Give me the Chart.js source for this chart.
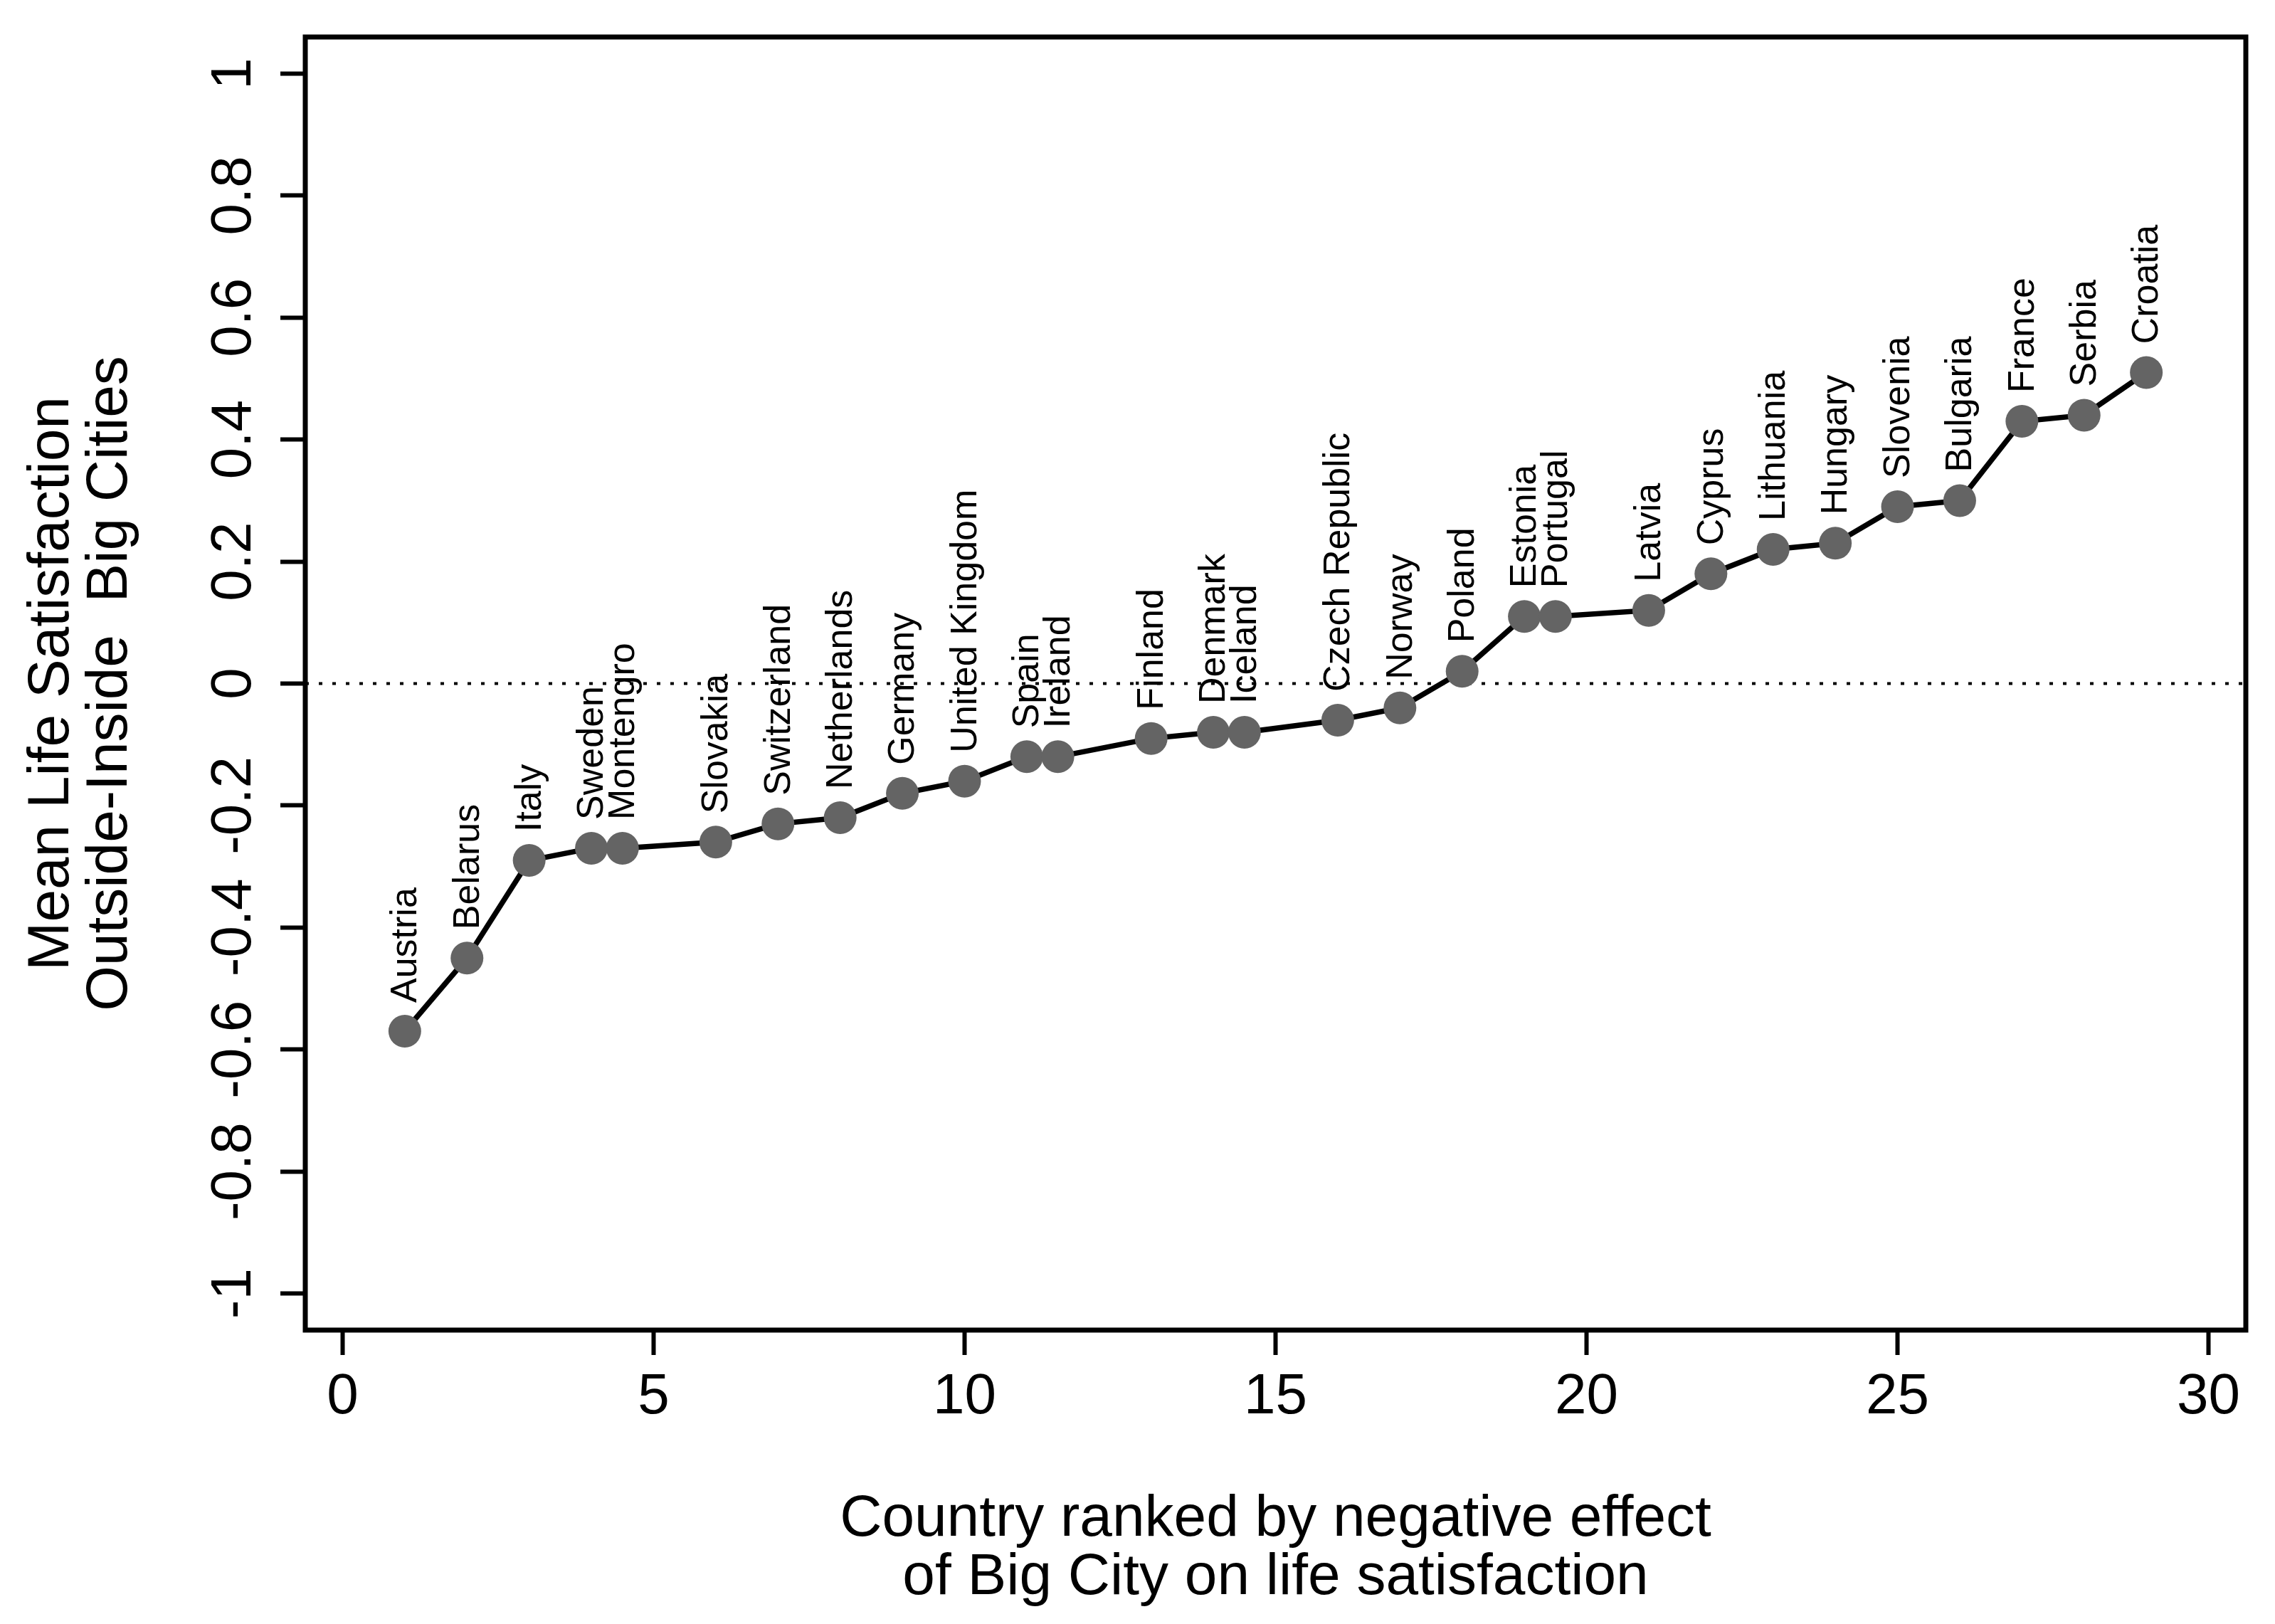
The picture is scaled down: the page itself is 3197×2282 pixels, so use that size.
<!DOCTYPE html>
<html>
<head>
<meta charset="utf-8">
<script src="https://cdn.jsdelivr.net/npm/chart.js@4.4.1/dist/chart.umd.min.js"></script>
<style>
  html, body { margin: 0; padding: 0; background: #fff; }
  canvas { display: block; }
</style>
</head>
<body>
<canvas id="rankChart" width="3197" height="2282" style="width:3197px;height:2282px"></canvas>
<script>
// country order, rank position and outside-inside difference
const countries = ['Austria', 'Belarus', 'Italy', 'Sweden', 'Montengro', 'Slovakia', 'Switzerland',
  'Netherlands', 'Germany', 'United Kingdom', 'Spain', 'Ireland', 'Finland', 'Denmark', 'Iceland',
  'Czech Republic', 'Norway', 'Poland', 'Estonia', 'Portugal', 'Latvia', 'Cyprus', 'Lithuania',
  'Hungary', 'Slovenia', 'Bulgaria', 'France', 'Serbia', 'Croatia'];
const ranks = [1, 2, 3, 4, 4.5, 6, 7, 8, 9, 10, 11, 11.5, 13, 14, 14.5, 16, 17, 18, 19, 19.5,
  21, 22, 23, 24, 25, 26, 27, 28, 29];
const values = [-0.57, -0.45, -0.29, -0.27, -0.27, -0.26, -0.23, -0.22, -0.18, -0.16, -0.12, -0.12,
  -0.09, -0.08, -0.08, -0.06, -0.04, 0.02, 0.11, 0.11, 0.12, 0.18, 0.22, 0.23, 0.29, 0.30,
  0.43, 0.44, 0.51];
const xTitle = ['Country ranked by negative effect', 'of Big City on life satisfaction'];
const yTitle = ['Mean Life Satisfaction', 'Outside-Inside  Big Cities'];

const FONT = "'Liberation Sans', Arial, Helvetica, sans-serif";
Chart.defaults.font.family = FONT;
Chart.defaults.color = '#000';

// box round the plot region
const framePlugin = {
  id: 'frame',
  afterDraw(chart) {
    const { ctx, chartArea: a } = chart;
    ctx.save();
    ctx.strokeStyle = '#000';
    ctx.lineWidth = 7;
    ctx.strokeRect(a.left, a.top, a.right - a.left, a.bottom - a.top);
    ctx.restore();
  }
};

// dotted line at zero
const zeroLine = {
  id: 'zeroLine',
  beforeDatasetsDraw(chart) {
    const { ctx, chartArea: a, scales } = chart;
    const y = scales.y.getPixelForValue(0);
    ctx.save();
    ctx.strokeStyle = '#000';
    ctx.lineWidth = 4;
    ctx.setLineDash([5, 14]);
    ctx.beginPath();
    ctx.moveTo(a.left, y);
    ctx.lineTo(a.right, y);
    ctx.stroke();
    ctx.restore();
  }
};

// vertical country names above each marker
const pointLabels = {
  id: 'pointLabels',
  afterDatasetsDraw(chart) {
    const { ctx } = chart;
    const meta = chart.getDatasetMeta(0);
    ctx.save();
    ctx.fillStyle = '#000';
    ctx.font = '52px ' + FONT;
    ctx.textAlign = 'left';
    ctx.textBaseline = 'middle';
    meta.data.forEach((pt, i) => {
      ctx.save();
      ctx.translate(pt.x + 2, pt.y - 40);
      ctx.rotate(-Math.PI / 2);
      ctx.fillText(countries[i], 0, 0);
      ctx.restore();
    });
    ctx.restore();
  }
};

const ctx = document.getElementById('rankChart').getContext('2d');
new Chart(ctx, {
  type: 'scatter',
  data: {
    datasets: [{
      data: ranks.map((r, i) => ({ x: r, y: values[i] })),
      showLine: true,
      borderColor: '#000',
      borderWidth: 7.5,
      pointRadius: 23,
      pointHoverRadius: 23,
      pointBackgroundColor: '#646464',
      pointBorderWidth: 0,
      tension: 0
    }]
  },
  options: {
    responsive: false,
    animation: false,
    devicePixelRatio: 1,
    layout: { padding: { top: 52, right: 41, left: 0, bottom: 0 } },
    plugins: {
      legend: { display: false },
      tooltip: { enabled: false }
    },
    scales: {
      x: {
        type: 'linear',
        min: -0.6,
        max: 30.6,
        afterFit(scale) { scale.height = 413; },
        border: { display: false },
        grid: { drawOnChartArea: false, drawTicks: true, tickLength: 35, tickWidth: 6, tickColor: '#000' },
        ticks: {
          stepSize: 5,
          includeBounds: false,
          padding: 12,
          font: { size: 80 },
          color: '#000',
          callback: v => String(Number(v.toFixed(1)))
        },
        title: {
          display: true,
          text: xTitle,
          font: { size: 82, lineHeight: 1 },
          color: '#000',
          padding: { top: 0, bottom: 24 }
        }
      },
      y: {
        type: 'linear',
        min: -1.06,
        max: 1.06,
        afterFit(scale) { scale.width = 429; },
        border: { display: false },
        grid: { drawOnChartArea: false, drawTicks: true, tickLength: 35, tickWidth: 6, tickColor: '#000' },
        ticks: {
          stepSize: 0.2,
          includeBounds: false,
          minRotation: 90,
          maxRotation: 90,
          crossAlign: 'center',
          padding: -5,
          font: { size: 80 },
          color: '#000',
          callback: v => String(Number(v.toFixed(1)))
        },
        title: {
          display: true,
          text: yTitle,
          font: { size: 82, lineHeight: 1 },
          color: '#000',
          padding: { top: 32, bottom: 0 }
        }
      }
    }
  },
  plugins: [zeroLine, pointLabels, framePlugin]
});
</script>
</body>
</html>
